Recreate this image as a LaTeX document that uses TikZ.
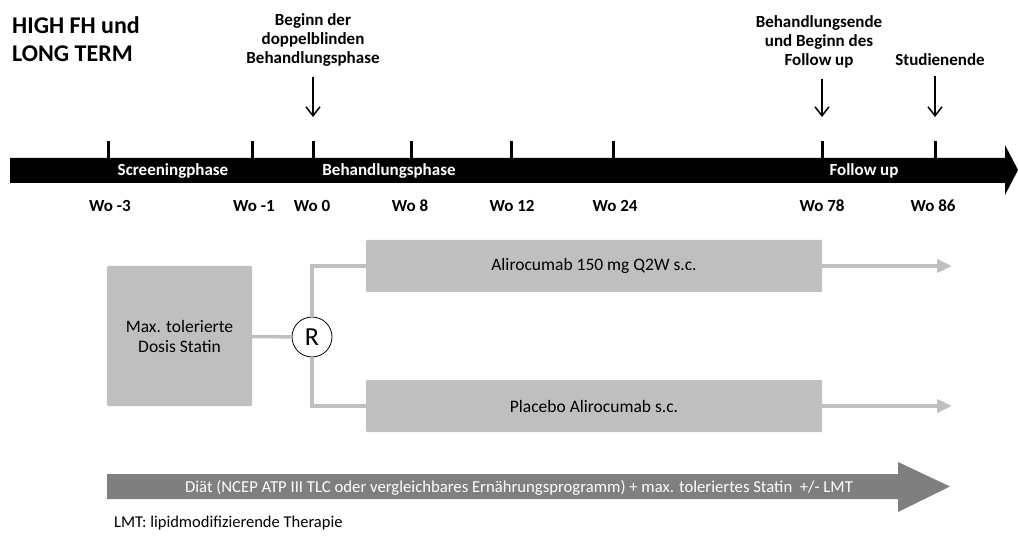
\documentclass[tikz,border=0pt]{standalone}
\usepackage{fontspec}
\setmainfont{Carlito}
\usetikzlibrary{arrows.meta}
\definecolor{BoxGray}{RGB}{191, 191, 191}
\definecolor{ArrowGray}{RGB}{127, 127, 127}

\begin{document}
\begin{tikzpicture}[x = 1pt, y = -1pt,
    fett/.style = {font = \bfseries\fontsize{17}{19}\selectfont, inner sep = 0},
    wo/.style = {fett, anchor = base},
    phase/.style = {fett, anchor = base, text = white},
    strich/.style = {line width = 3pt},
    pfeil/.style = {-{Straight Barb[length = 9pt, width = 14pt]}, line width = 1.5pt, shorten <= 11pt, shorten >= 24pt},
    graubox/.style = {fill = BoxGray, rounded corners = 1pt, font = \fontsize{17.5}{20}\selectfont, align = center},
    linie/.style = {BoxGray, line width = 3.5pt},
    graupfeil/.style = {linie, -{Triangle[length = 15pt, width = 13pt]}}]
    \useasboundingbox (0, 0) rectangle (1018, 540);
    %标题
    \node[anchor = north west, align = left, inner sep = 0, font = \bfseries\fontsize{24}{28}\selectfont] (titel) at (12, 16) {HIGH FH und\\LONG TERM};
    %时间轴
    \fill (10, 158) -- (1005, 158) -- (1005, 145) -- (1018, 170) -- (1005, 195) -- (1005, 183) -- (10, 183) -- cycle;
    \coordinate (tm3) at (108, 141);
    \coordinate (tm1) at (252, 141);
    \coordinate (t0) at (313, 141);
    \coordinate (t8) at (411, 141);
    \coordinate (t12) at (511, 141);
    \coordinate (t24) at (613, 141);
    \coordinate (t78) at (822, 141);
    \coordinate (t86) at (935, 141);
    \draw[strich] (tm3) -- ++(0, 17);
    \draw[strich] (tm1) -- ++(0, 17);
    \draw[strich] (t0) -- ++(0, 17);
    \draw[strich] (t8) -- ++(0, 17);
    \draw[strich] (t12) -- ++(0, 17);
    \draw[strich] (t24) -- ++(0, 17);
    \draw[strich] (t78) -- ++(0, 17);
    \draw[strich] (t86) -- ++(0, 17);
    %阶段
    \node[phase] (screening) at (173, 176) {Screeningphase};
    \node[phase] (behandlung) at (389, 176) {Behandlungsphase};
    \node[phase] (follow) at (864, 176) {Follow up};
    %周数
    \node[wo] (wom3) at (110, 212) {Wo -3};
    \node[wo] (wom1) at (254, 212) {Wo -1};
    \node[wo] (wo0) at (312, 212) {Wo 0};
    \node[wo] (wo8) at (410, 212) {Wo 8};
    \node[wo] (wo12) at (512, 212) {Wo 12};
    \node[wo] (wo24) at (615, 212) {Wo 24};
    \node[wo] (wo78) at (822, 212) {Wo 78};
    \node[wo] (wo86) at (933, 212) {Wo 86};
    %标注箭头
    \node[fett, anchor = north, align = center] (beginn) at (313, 13) {Beginn der\\doppelblinden\\Behandlungsphase};
    \node[fett, anchor = north, align = center] (ende) at (819, 15) {Behandlungsende\\und Beginn des\\Follow up};
    \node[fett, anchor = north] (studien) at (940, 53) {Studienende};
    \draw[pfeil] (t0 |- beginn.south) -- (t0);
    \draw[pfeil] (t78 |- ende.south) -- (t78);
    \draw[pfeil] (t86 |- studien.south) -- (t86);
    %分组
    \node[graubox, minimum width = 145pt, minimum height = 140pt] (statin) at (179.5, 336) {Max. tolerierte\\Dosis Statin};
    \node[circle, draw, fill = white, minimum size = 40pt, inner sep = 0, line width = 0.8pt, font = \fontsize{26}{26}\selectfont] (rand) at (312, 337) {R};
    \node[graubox, minimum width = 456pt, minimum height = 52pt] (alir) at (594, 266) {Alirocumab 150 mg Q2W s.c.};
    \node[graubox, minimum width = 456pt, minimum height = 52pt] (plac) at (594, 406) {Placebo Alirocumab s.c.};
    \coordinate (alirend) at (952, 266);
    \coordinate (placend) at (952, 406);
    \draw[linie] (statin) -- (rand);
    \draw[linie] (rand) |- (alir);
    \draw[linie] (rand) |- (plac);
    \draw[graupfeil] (alir) -- (alirend);
    \draw[graupfeil] (plac) -- (placend);
    %背景治疗
    \fill[ArrowGray] (107, 474) -- (898, 474) -- (898, 462) -- (950, 486.5) -- (898, 512) -- (898, 499) -- (107, 499) -- cycle;
    \node[anchor = base, text = white, font = \fontsize{16.7}{18}\selectfont] (diaet) at (519, 492) {Diät (NCEP ATP III TLC oder vergleichbares Ernährungsprogramm) + max. toleriertes Statin\ \ +/- LMT};
    \node[anchor = base west, inner sep = 0, font = \fontsize{16.5}{18}\selectfont] (lmt) at (114, 527) {LMT: lipidmodifizierende Therapie};
\end{tikzpicture}
\end{document}
